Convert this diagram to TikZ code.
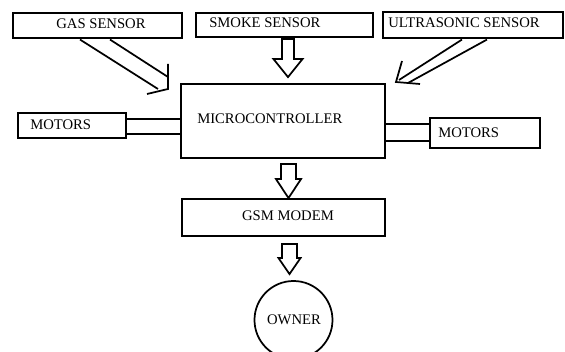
\documentclass[tikz,border=0pt]{standalone}
\usepackage{fontspec}
\setmainfont{Liberation Serif}
\usetikzlibrary{calc}
\tikzset{
  box/.style={draw, line width=1.6pt, rectangle, inner sep=0pt},
  txt/.style={inner sep=0pt, font=\fontsize{11}{13}\selectfont, anchor=base west},
  txtc/.style={inner sep=0pt, font=\fontsize{11}{13}\selectfont, anchor=base},
  blk/.style={draw, line width=1.3pt, line join=miter},
  link/.style={draw, line width=1.4pt}
}
\newcommand\blockdown[5]{%
  \draw[blk] ($(#1)+(-#2,0)$) -- ($(#1)+(-#2,#3)$) -- ($(#1)+(-#4,#3)$) -- ($(#1)+(0,#5)$) -- ($(#1)+(#4,#3)$) -- ($(#1)+(#2,#3)$) -- ($(#1)+(#2,0)$) -- cycle;}
\begin{document}
\begin{tikzpicture}[x=0.75pt,y=-0.75pt]
\useasboundingbox (0,0) rectangle (565,352);
% boxes
\node[box, minimum width=169*0.75pt, minimum height=25*0.75pt] (gas) at (97.5,25.5) {};
\node[box, minimum width=177*0.75pt, minimum height=24*0.75pt] (smoke) at (284.5,25) {};
\node[box, minimum width=180*0.75pt, minimum height=26*0.75pt] (ultra) at (473,25) {};
\node[box, minimum width=204*0.75pt, minimum height=74*0.75pt] (mc) at (283,121) {};
\node[box, minimum width=108*0.75pt, minimum height=25*0.75pt] (lm) at (72,125.5) {};
\node[box, minimum width=110*0.75pt, minimum height=30*0.75pt] (rm) at (485,133) {};
\node[box, minimum width=203*0.75pt, minimum height=37*0.75pt] (gsm) at (283.5,217.5) {};
\node[draw, circle, line width=1.3pt, minimum size=78*0.75pt, inner sep=0pt] (own) at (293.5,320) {};
% texts
\node[txtc] (tgas) at (101,29) {GAS SENSOR};
\node[txt] (tsmoke) at (209,28) {SMOKE SENSOR};
\node[txt] (tultra) at (388,28) {ULTRASONIC SENSOR};
\node[txt] (tmc) at (197,124) {MICROCONTROLLER};
\node[txt] (tlm) at (30,130) {MOTORS};
\node[txt] (trm) at (438,138) {MOTORS};
\node[txtc] (tgsm) at (288,221) {GSM MODEM};
\node[txtc] (town) at (294,325) {OWNER};
% motor links
\coordinate (l1) at ($(lm.east)+(0,-6.5)$);
\coordinate (l2) at ($(lm.east)+(0,8.5)$);
\draw[link] (l1) -- (l1 -| mc.west);
\draw[link] (l2) -- (l2 -| mc.west);
\coordinate (r1) at ($(rm.west)+(0,-9)$);
\coordinate (r2) at ($(rm.west)+(0,8)$);
\draw[link] (r1) -- (r1 -| mc.east);
\draw[link] (r2) -- (r2 -| mc.east);
% vertical block arrows
\coordinate (s0) at ($(smoke.south)+(3.5,1)$);
\blockdown{s0}{6}{20}{14.5}{38}
\coordinate (m0) at ($(mc.south)+(5.5,5)$);
\blockdown{m0}{7.5}{15}{12.5}{34}
\coordinate (g0) at ($(gsm.south)+(6,7)$);
\blockdown{g0}{7.5}{14}{11}{30}
% gas diagonal arrow
\coordinate (ga) at ($(gas.south)+(-17.5,0.5)$);
\coordinate (gb) at ($(gas.south)+(12.5,0.5)$);
\coordinate (gt) at (168,89);
\draw[blk] (ga) -- (158,89);
\draw[blk] (gb) -- (168,77);
\draw[blk] (168,64) -- (gt) -- (147,94);
% ultrasonic diagonal arrow
\coordinate (ua) at ($(ultra.south)+(-11,0.5)$);
\coordinate (ub) at ($(ultra.south)+(14,0.5)$);
\coordinate (ut) at (396,82);
\draw[blk] (ua) -- (399,80);
\draw[blk] (ub) -- (408,83);
\draw[blk] (402,61) -- (ut) -- (420,84);
\end{tikzpicture}
\end{document}
